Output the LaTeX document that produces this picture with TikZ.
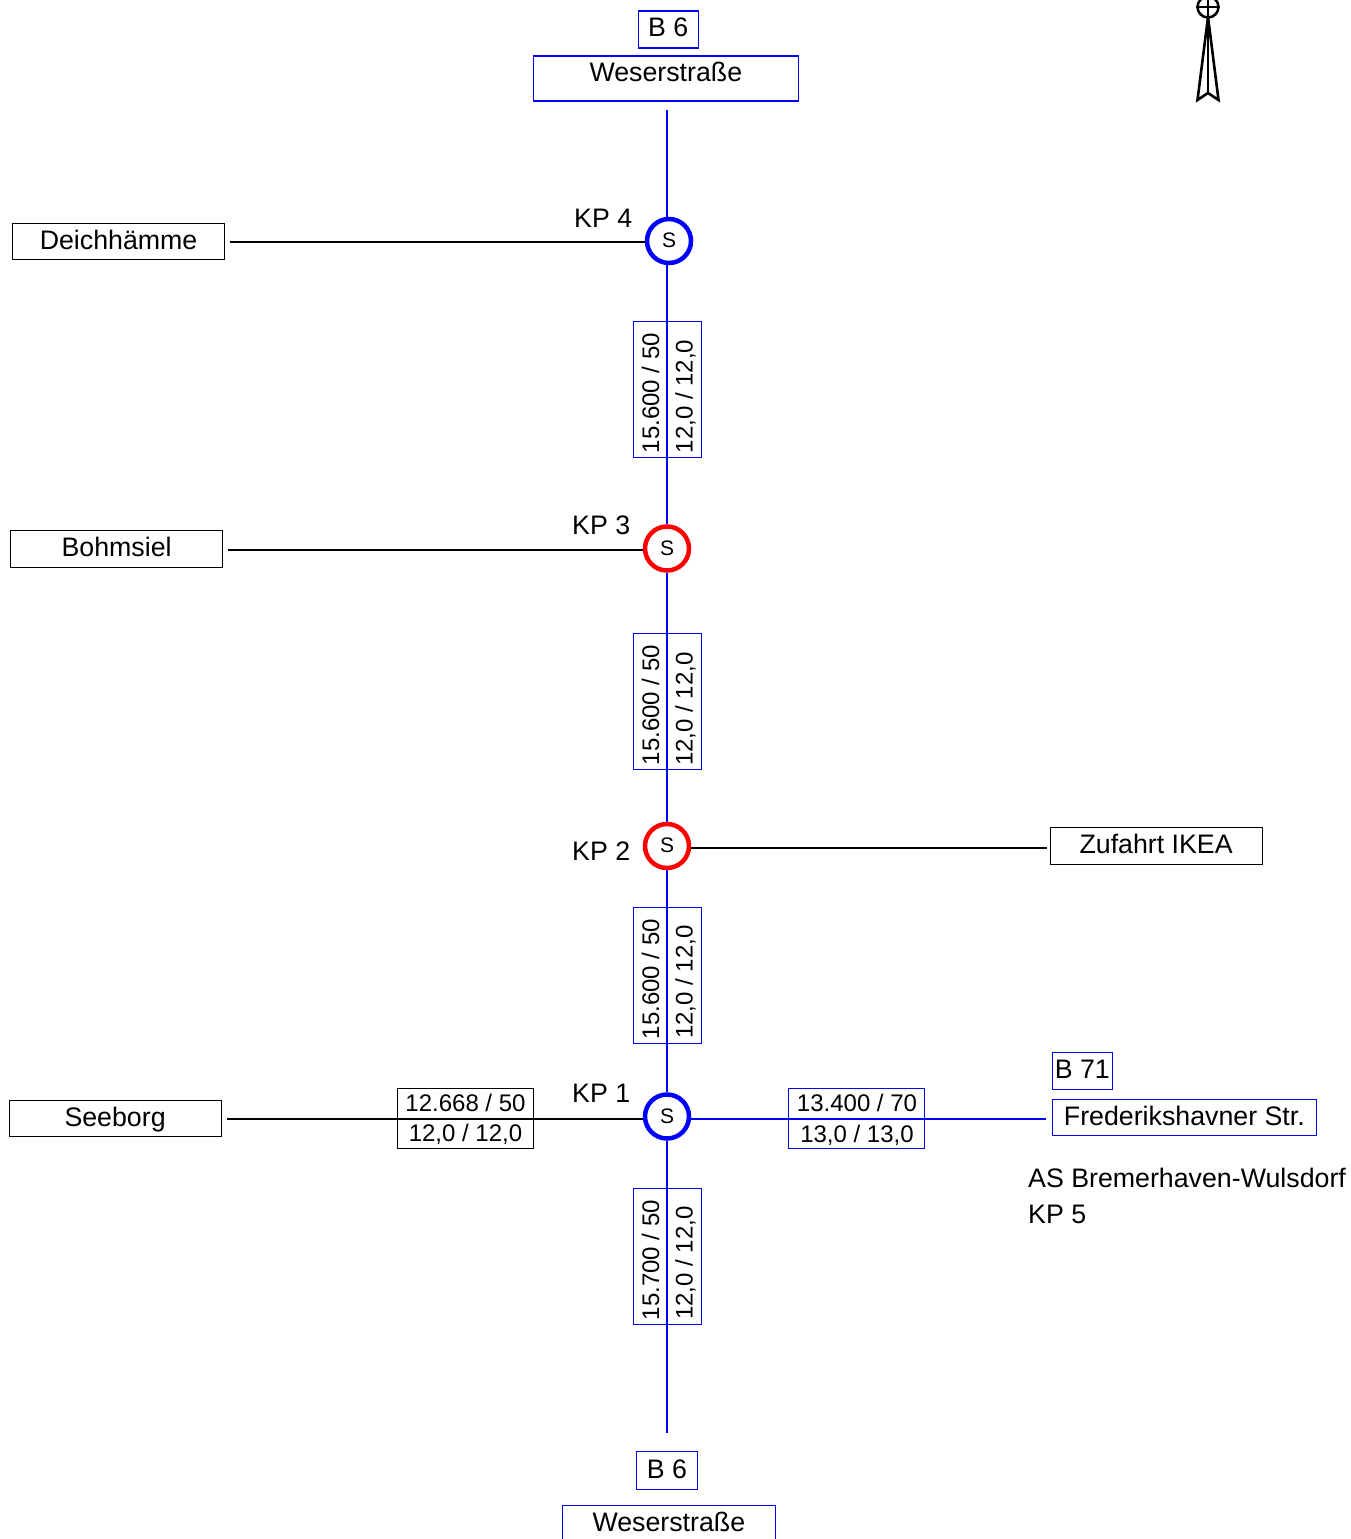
\documentclass[tikz,border=0pt]{standalone}
\usepackage{fontspec}
\setmainfont{Liberation Sans}
\definecolor{pblue}{RGB}{0,0,255}
\definecolor{pred}{RGB}{255,0,0}
\tikzset{
  txtbig/.style={inner sep=0pt,font=\fontsize{26.75bp}{30bp}\selectfont},
  txtmid/.style={inner sep=0pt,font=\fontsize{24bp}{28bp}\selectfont},
  boxline/.style={draw,line width=1.2bp},
  road/.style={line width=2bp},
  bluebox/.style={boxline,draw=pblue},
  blackbox/.style={boxline,draw=black},
  kp/.style={circle,draw,fill=white,line width=4.5bp,minimum size=44bp,inner sep=0pt,
    text height=13.5bp,text depth=0bp,font=\fontsize{21bp}{24bp}\selectfont},
}
% name, style, x1,y1,x2,y2, baseline y, text
\newcommand{\bx}[8]{%
  \pgfmathsetmacro{\bw}{#5-#3}%
  \pgfmathsetmacro{\bta}{#7-#4}%
  \pgfmathsetmacro{\btb}{#6-#7}%
  \node[#2,txtbig,anchor=north west,minimum width=\bw bp,text height=\bta bp,text depth=\btb bp] (#1) at (#3-1,#4-1) {#8};}
% name, colour, x1,y1,x2,y2
\newcommand{\tbl}[6]{%
  \pgfmathsetmacro{\bw}{#5-#3}%
  \pgfmathsetmacro{\bh}{#6-#4}%
  \node[#2,anchor=north west,minimum width=\bw bp,minimum height=\bh bp,inner sep=0pt] (#1) at (#3-1,#4-1) {};}
\begin{document}
\begin{tikzpicture}[x=1bp,y=-1bp]
\useasboundingbox (0,0) rectangle (1351,1539);
\clip (0,0) rectangle (1351,1539);

% junctions
\node[kp,draw=pblue] (kpfour) at (669,241) {S};
\node[kp,draw=pred] (kpthree) at (667,548.5) {S};
\node[kp,draw=pred] (kptwo) at (667,846) {S};
\node[kp,draw=pblue] (kpone) at (667,1116.5) {S};

% road name boxes
\bx{bsixtop}{bluebox}{638.5}{11.5}{698.5}{48.5}{36.5}{B 6}
\bx{wesertop}{bluebox}{534}{56.5}{798.5}{101.5}{82}{Weserstraße}
\bx{deich}{blackbox}{13}{223.5}{225}{260}{249.5}{Deichhämme}
\bx{bohm}{blackbox}{11}{531}{223}{567.5}{556.5}{Bohmsiel}
\bx{ikea}{blackbox}{1050.5}{828}{1262.5}{864.5}{854}{Zufahrt IKEA}
\bx{seeb}{blackbox}{9.5}{1100.5}{221.5}{1137}{1126.5}{Seeborg}
\bx{bsevone}{bluebox}{1052.5}{1052.5}{1113}{1090}{1078.5}{B 71}
\bx{fred}{bluebox}{1052.5}{1099.5}{1317}{1136}{1126}{Frederikshavner Str.}
\bx{bsixbot}{bluebox}{637}{1452}{697.5}{1489.5}{1478.5}{B 6}
\bx{weserbot}{bluebox}{563}{1506}{775.5}{1545}{1531.5}{Weserstraße}

% free ends of the road stubs
\coordinate (roadtop) at (667,110);
\coordinate (roadbot) at (667,1433);
\coordinate (fourtop) at (667,218);
\coordinate (fourbot) at (667,264);
\coordinate (deichend) at (229.5,242);
\coordinate (bohmend) at (228,549.5);
\coordinate (ikeaend) at (1046.5,847.5);
\coordinate (seebend) at (227,1118.5);
\coordinate (fredend) at (1046,1118.5);

% blue main road
\draw[road,draw=pblue] (roadtop) -- (fourtop);
\draw[road,draw=pblue] (fourbot) -- (kpthree.north);
\draw[road,draw=pblue] (kpthree.south) -- (kptwo.north);
\draw[road,draw=pblue] (kptwo.south) -- (kpone.north);
\draw[road,draw=pblue] (kpone.south) -- (roadbot);
\draw[road,draw=pblue] (fredend -| kpone.east) -- (fredend);

% black side roads
\draw[road] (deichend) -- (deichend -| kpfour.west);
\draw[road] (bohmend) -- (bohmend -| kpthree.west);
\draw[road] (ikeaend -| kptwo.east) -- (ikeaend);
\draw[road] (seebend) -- (seebend -| kpone.west);

% vertical tables
\tbl{tabd}{bluebox}{634}{321.5}{702}{457.5}
\tbl{tabc}{bluebox}{634}{633.5}{702}{769.5}
\tbl{tabb}{bluebox}{634}{907.5}{702}{1043.5}
\tbl{taba}{bluebox}{634}{1188.5}{702}{1324.5}
\foreach \nm/\ya/\yb/\tx in {d/393/396.5/15.600,c/705/709/15.600,b/979/982/15.600,a/1260/1263/15.700}{
  \node[txtmid,rotate=90] (tab\nm l) at (650.5,\ya) {\tx{} / 50};
  \node[txtmid,rotate=90] (tab\nm r) at (685.5,\yb) {12,0 / 12,0};
}

% horizontal tables
\tbl{tabw}{blackbox}{398}{1088.5}{534}{1149}
\tbl{tabe}{bluebox}{789}{1088.5}{925}{1149}
\node[txtmid] (tabwt) at (465.5,1103) {12.668 / 50};
\node[txtmid] (tabwb) at (465.5,1134) {12,0 / 12,0};
\node[txtmid] (tabet) at (857,1103) {13.400 / 70};
\node[txtmid] (tabeb) at (857,1135) {13,0 / 13,0};

% labels
\tikzset{capt/.style={txtbig,anchor=base west}}
\node[capt] (lfour) at (574,227.5) {KP 4};
\node[capt] (lthree) at (572,534.5) {KP 3};
\node[capt] (ltwo) at (572,860) {KP 2};
\node[capt] (lone) at (572,1102) {KP 1};
\node[capt] (lasa) at (1028,1187.5) {AS Bremerhaven-Wulsdorf};
\node[capt] (lasb) at (1028,1223.5) {KP 5};

% north arrow
\node[circle,draw,line width=2.5bp,minimum size=21bp,inner sep=0pt] (nc) at (1208,7) {};
\draw[line width=2bp] (nc.north) -- (nc.south);
\draw[line width=2bp] (nc.west) -- (nc.east);
\coordinate (ntip) at (1208,17);
\coordinate (nnotch) at (1208,93);
\draw[line width=2.6bp,line join=miter] (ntip) -- (1197.5,100) -- (nnotch) -- (1218.5,100) -- cycle;
\draw[line width=1.5bp] (ntip) -- (nnotch);
\end{tikzpicture}
\end{document}
